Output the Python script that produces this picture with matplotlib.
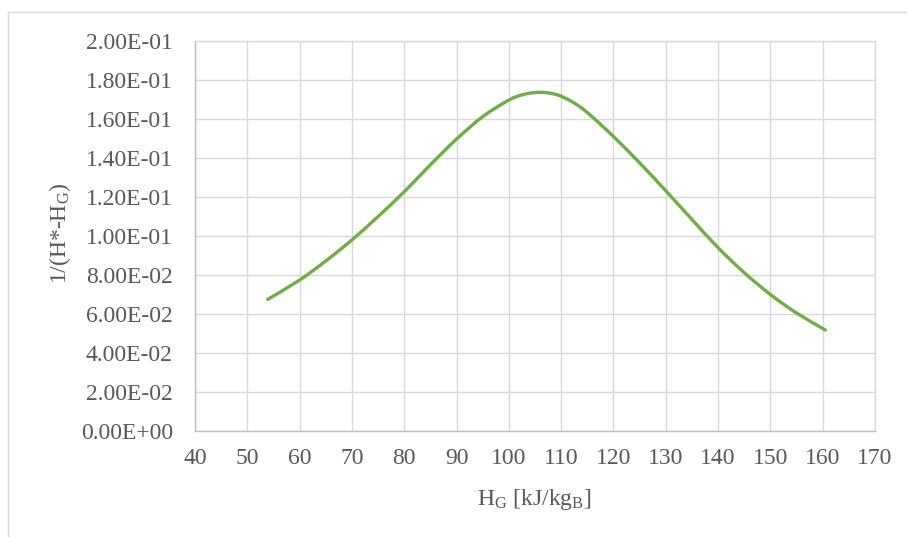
import matplotlib
matplotlib.use("Agg")
import numpy as np
import matplotlib.pyplot as plt
from matplotlib.lines import Line2D
from matplotlib.path import Path
from matplotlib.patches import PathPatch

plt.rcParams['font.family'] = ['Liberation Serif', 'DejaVu Serif']
plt.rcParams['mathtext.default'] = 'regular'

# H_G in kJ/kg_B and 1/(H*-H_G)
h_g = [53.9, 60, 65, 70, 75, 80, 85, 90, 95, 100, 103, 106,
       109, 112, 115, 120, 125, 130, 135, 140, 145, 150, 155, 160.5]
inv_dh = [0.0675, 0.0774, 0.0872, 0.0980, 0.1100, 0.1227, 0.1365, 0.1497,
          0.1612, 0.1697, 0.1727, 0.1737, 0.1726, 0.1690, 0.1633, 0.1510,
          0.1375, 0.1232, 0.1085, 0.0940, 0.0812, 0.0700, 0.0605, 0.0518]

x_ticks = list(range(40, 171, 10))
y_ticks = [i * 0.02 for i in range(11)]

grid_c = '#D9D9D9'
text_c = '#595959'


def smooth_path(x, y):
    # spreadsheet-style smoothed line: cubic Bezier through every point
    p = np.column_stack([x, y])
    verts = [p[0]]
    codes = [Path.MOVETO]
    n = len(p)
    for i in range(n - 1):
        p0 = p[i - 1] if i > 0 else p[i]
        p3 = p[i + 2] if i + 2 < n else p[i + 1]
        c1 = p[i] + (p[i + 1] - p0) / 6
        c2 = p[i + 1] - (p3 - p[i]) / 6
        verts += [c1, c2, p[i + 1]]
        codes += [Path.CURVE4] * 3
    return Path(verts, codes)


fig = plt.figure(figsize=(9.07, 5.37), dpi=100)
ax = fig.add_axes([195 / 907, 1 - 431 / 537, 680 / 907, 390 / 537])

ax.add_patch(PathPatch(smooth_path(h_g, inv_dh), fill=False, edgecolor='#70AD47',
                       lw=2.4, capstyle='round', joinstyle='round', zorder=3))

ax.set_xlim(40, 170)
ax.set_ylim(0, 0.2)
ax.set_xticks(x_ticks)
ax.set_yticks(y_ticks)
ax.set_yticklabels(['%.2E' % v for v in y_ticks])
ax.grid(True, color=grid_c, lw=1.0)
ax.set_axisbelow(True)
ax.tick_params(length=0, labelsize=17, colors=text_c)
ax.tick_params(axis='y', pad=16)
ax.tick_params(axis='x', pad=12)

for side in ('top', 'right'):
    ax.spines[side].set_color(grid_c)
    ax.spines[side].set_linewidth(1.0)
for side in ('left', 'bottom'):
    ax.spines[side].set_color('#BFBFBF')
    ax.spines[side].set_linewidth(1.0)

fig.text(60 / 907, 1 - 233 / 537, '1/(H*-H$_G$)', rotation=90,
         ha='center', va='center', fontsize=17, color=text_c)
fig.text(534 / 907, 1 - 500 / 537, 'H$_G$ [kJ/kg$_B$]',
         ha='center', va='center', fontsize=17, color=text_c)

# chart area border (left and top edges visible)
fig.add_artist(Line2D([8 / 907, 8 / 907], [0, 1 - 12 / 537],
                      transform=fig.transFigure, color=grid_c, lw=1.0))
fig.add_artist(Line2D([8 / 907, 1], [1 - 12 / 537, 1 - 12 / 537],
                      transform=fig.transFigure, color=grid_c, lw=1.0))

fig.savefig('out.png', dpi=100)
